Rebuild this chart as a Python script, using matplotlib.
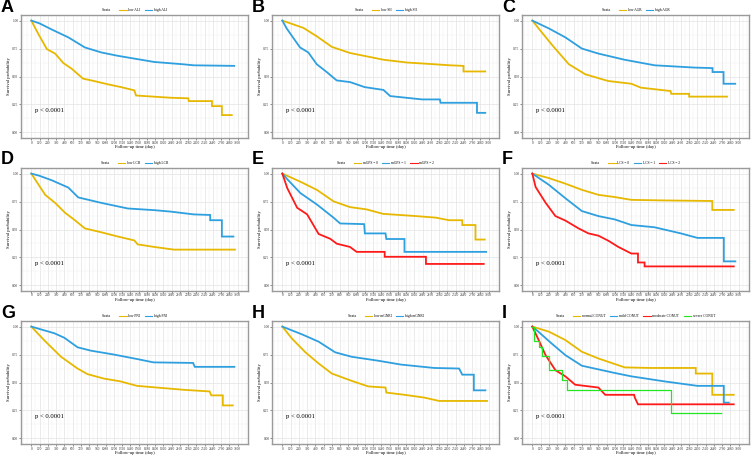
import numpy as np
import matplotlib
matplotlib.use("Agg")
import matplotlib.pyplot as plt
from matplotlib.ticker import MultipleLocator
from matplotlib.lines import Line2D
from matplotlib.offsetbox import HPacker

plt.rcParams['font.family'] = ['Liberation Serif', 'DejaVu Serif']

YELLOW = "#E7B800"
BLUE = "#2E9FDF"
RED = "#FF1A1A"
GREEN = "#22E622"

# ---- data: (days, survival probability) ----
ali_low = [(0, 1), (106, 0.876), (226, 0.745), (346, 0.705), (466, 0.62), (586, 0.57), (754, 0.48),
           (874, 0.465), (1114, 0.43), (1306, 0.405), (1498, 0.376), (1522, 0.33), (2026, 0.31),
           (2280, 0.305), (2290, 0.28), (2626, 0.28), (2626, 0.235), (2770, 0.235), (2770, 0.155),
           (2914, 0.155)]
ali_high = [(0, 1), (120, 0.975), (298, 0.92), (538, 0.85), (778, 0.76), (1018, 0.715), (1258, 0.685),
            (1498, 0.66), (1786, 0.63), (2194, 0.61), (2362, 0.60), (2950, 0.595)]

sii_low = [(0, 1), (306, 0.935), (500, 0.86), (720, 0.765), (985, 0.71), (1228, 0.68), (1470, 0.65),
           (1810, 0.625), (2200, 0.61), (2440, 0.60), (2634, 0.595), (2634, 0.545), (2950, 0.545)]
sii_high = [(0, 1), (63, 0.93), (257, 0.76), (378, 0.715), (500, 0.61), (645, 0.54), (790, 0.465),
            (985, 0.45), (1198, 0.405), (1470, 0.38), (1568, 0.325), (2032, 0.295), (2290, 0.295),
            (2300, 0.265), (2830, 0.265), (2830, 0.175), (2950, 0.175)]

agr_low = [(0, 1), (144, 0.89), (290, 0.78), (530, 0.61), (770, 0.52), (1100, 0.46), (1440, 0.435),
           (1580, 0.40), (2010, 0.37), (2020, 0.345), (2280, 0.345), (2280, 0.32), (2830, 0.32)]
agr_high = [(0, 1), (240, 0.93), (480, 0.85), (720, 0.75), (960, 0.705), (1340, 0.65), (1780, 0.60),
            (2350, 0.58), (2620, 0.575), (2620, 0.54), (2780, 0.54), (2780, 0.435), (2950, 0.435)]

lcr_low = [(0, 1), (202, 0.81), (346, 0.738), (490, 0.65), (634, 0.583), (778, 0.51), (1018, 0.475),
           (1258, 0.437), (1498, 0.402), (1546, 0.367), (1786, 0.344), (2074, 0.32), (2960, 0.32)]
lcr_high = [(0, 1), (120, 0.98), (298, 0.94), (538, 0.875), (682, 0.787), (1018, 0.738), (1402, 0.688),
            (1786, 0.673), (2026, 0.66), (2362, 0.635), (2600, 0.63), (2600, 0.583), (2770, 0.583),
            (2770, 0.437), (2938, 0.437)]

gps0 = [(0, 1), (264, 0.927), (504, 0.854), (744, 0.752), (984, 0.70), (1224, 0.68), (1464, 0.64),
        (1944, 0.62), (2232, 0.606), (2424, 0.583), (2616, 0.583), (2616, 0.54), (2808, 0.54),
        (2808, 0.41), (2942, 0.41)]
gps1 = [(0, 1), (72, 0.95), (264, 0.825), (504, 0.723), (744, 0.606), (840, 0.554), (1190, 0.548),
        (1200, 0.465), (1500, 0.465), (1512, 0.415), (1776, 0.415), (1776, 0.30), (2962, 0.30)]
gps2 = [(0, 1), (72, 0.87), (216, 0.694), (360, 0.636), (528, 0.46), (696, 0.417), (792, 0.373),
        (984, 0.344), (1080, 0.30), (1488, 0.30), (1488, 0.256), (2088, 0.256), (2088, 0.192),
        (2928, 0.192)]

lcs0 = [(0, 1), (240, 0.96), (480, 0.91), (720, 0.855), (960, 0.81), (1200, 0.79), (1440, 0.765),
        (1920, 0.76), (2616, 0.755), (2616, 0.675), (2928, 0.675)]
lcs1 = [(0, 1), (240, 0.90), (480, 0.78), (720, 0.665), (960, 0.62), (1200, 0.59), (1440, 0.54),
        (1776, 0.52), (2160, 0.465), (2400, 0.425), (2784, 0.425), (2784, 0.215), (2952, 0.215)]
lcs2 = [(0, 1), (48, 0.88), (192, 0.74), (336, 0.62), (480, 0.58), (672, 0.51), (816, 0.465),
        (960, 0.445), (1104, 0.40), (1248, 0.345), (1440, 0.285), (1536, 0.285), (1536, 0.205),
        (1632, 0.205), (1632, 0.17), (2928, 0.17)]

pni_low = [(0, 1), (192, 0.875), (432, 0.73), (672, 0.625), (816, 0.575), (1056, 0.535), (1296, 0.51),
           (1536, 0.47), (1824, 0.455), (2208, 0.435), (2592, 0.42), (2616, 0.385), (2784, 0.385),
           (2784, 0.295), (2928, 0.295)]
pni_high = [(0, 1), (336, 0.94), (480, 0.90), (672, 0.815), (864, 0.785), (1200, 0.75), (1536, 0.71),
            (1776, 0.68), (2352, 0.675), (2376, 0.64), (2952, 0.64)]

gnri_low = [(0, 1), (144, 0.89), (336, 0.77), (528, 0.67), (720, 0.58), (1008, 0.515), (1248, 0.465),
            (1500, 0.455), (1512, 0.41), (1776, 0.39), (2064, 0.365), (2280, 0.335), (2976, 0.335)]
gnri_high = [(0, 1), (288, 0.93), (528, 0.865), (768, 0.77), (1008, 0.73), (1392, 0.695), (1728, 0.66),
             (2208, 0.63), (2570, 0.625), (2616, 0.57), (2784, 0.57), (2784, 0.43), (2952, 0.43)]

conut_normal = [(0, 1), (240, 0.955), (480, 0.88), (720, 0.775), (960, 0.715), (1344, 0.635),
                (1728, 0.63), (2376, 0.63), (2376, 0.58), (2616, 0.58), (2616, 0.39), (2928, 0.39)]
conut_mild = [(0, 1), (96, 0.95), (288, 0.845), (480, 0.745), (720, 0.65), (1200, 0.585), (1440, 0.555),
              (1920, 0.51), (2400, 0.47), (2784, 0.47), (2784, 0.32), (2856, 0.32)]
conut_moderate = [(0, 1), (96, 0.875), (192, 0.745), (336, 0.61), (480, 0.555), (624, 0.48), (960, 0.455),
                  (1060, 0.39), (1480, 0.39), (1490, 0.365), (1536, 0.305), (2928, 0.305)]
severe_time = [0, 20, 96, 144, 240, 432, 504, 2016, 2736]
severe_surv = [1.0, 0.87, 0.815, 0.74, 0.61, 0.52, 0.43, 0.225, 0.225]

panels = [
    ("A", [("low ALI", ali_low, YELLOW), ("high ALI", ali_high, BLUE)]),
    ("B", [("low SII", sii_low, YELLOW), ("high SII", sii_high, BLUE)]),
    ("C", [("low AGR", agr_low, YELLOW), ("high AGR", agr_high, BLUE)]),
    ("D", [("low LCR", lcr_low, YELLOW), ("high LCR", lcr_high, BLUE)]),
    ("E", [("mGPS = 0", gps0, YELLOW), ("mGPS = 1", gps1, BLUE), ("mGPS = 2", gps2, RED)]),
    ("F", [("LCS = 0", lcs0, YELLOW), ("LCS = 1", lcs1, BLUE), ("LCS = 2", lcs2, RED)]),
    ("G", [("low PNI", pni_low, YELLOW), ("high PNI", pni_high, BLUE)]),
    ("H", [("low mGNRI", gnri_low, YELLOW), ("high mGNRI", gnri_high, BLUE)]),
    ("I", [("normal CONUT", conut_normal, YELLOW), ("mild CONUT", conut_mild, BLUE),
           ("moderate CONUT", conut_moderate, RED),
           ("severe CONUT", list(zip(severe_time, severe_surv)), GREEN)]),
]

W, H = 752, 457
fig = plt.figure(figsize=(W / 100, H / 100), dpi=100)
col_left = [21, 272, 522]
row_top = [15, 168, 321]
pw, ph = 227, 123

for i, (letter, curves) in enumerate(panels):
    r, c = divmod(i, 3)
    x0, y0 = col_left[c], row_top[r]
    ax = fig.add_axes([x0 / W, 1 - (y0 + ph) / H, pw / W, ph / H])
    for label, pts, color in curves:
        t = [p[0] for p in pts]
        s = [p[1] for p in pts]
        if label.startswith("severe"):
            ax.step(t, s, where="post", color=color, lw=0.9)
        else:
            ax.plot(t, s, color=color, lw=1.3, solid_joinstyle="miter")
    ax.set_xlim(-150, 3150)
    ax.set_ylim(-0.05, 1.05)
    ax.xaxis.set_minor_locator(MultipleLocator(60))
    ax.yaxis.set_minor_locator(MultipleLocator(0.125))
    ax.set_xticks(np.arange(0, 3001, 120))
    ax.set_yticks([0, 0.25, 0.5, 0.75, 1.0])
    ax.set_yticklabels(["0.00", "0.25", "0.50", "0.75", "1.00"])
    ax.tick_params(labelsize=2.6, length=1.2, width=0.4, pad=0.6, colors="#333333")
    ax.grid(which="major", color="#e3e3e3", lw=0.5)
    ax.grid(which="minor", color="#f0f0f0", lw=0.3)
    ax.tick_params(which="minor", length=0)
    ax.set_axisbelow(True)
    for sp in ax.spines.values():
        sp.set_color("#9a9a9a")
        sp.set_linewidth(1.0)
    ax.set_xlabel("Follow-up time (day)", fontsize=3.3, labelpad=0.5)
    ax.set_ylabel("Survival probability", fontsize=3.3, labelpad=1)
    ax.text(60, 0.2, "p < 0.0001", fontsize=4.8, ha="left", va="center")

    handles = [Line2D([], [], color=col, lw=0.8) for _, _, col in curves]
    names = [lab for lab, _, _ in curves]
    leg = ax.legend(handles, names, title="Strata", loc="lower center", bbox_to_anchor=(0.5, 1.0),
                    ncol=len(curves), frameon=False, fontsize=2.6, title_fontsize=2.8,
                    handlelength=2.0, columnspacing=1.2, handletextpad=0.5, borderaxespad=0.3)
    # put the title in the same row as the entries
    title_box = leg._legend_title_box
    items = leg._legend_handle_box
    leg._legend_box._children = [HPacker(pad=0, sep=6, children=[title_box, items], align="center")]

    fig.text((x0 - 20) / W, 1 - (y0 - 8) / H, letter, fontsize=13, fontweight="bold",
             family=["Liberation Sans", "DejaVu Sans"], ha="left", va="center")

fig.savefig("out.png", dpi=100)
